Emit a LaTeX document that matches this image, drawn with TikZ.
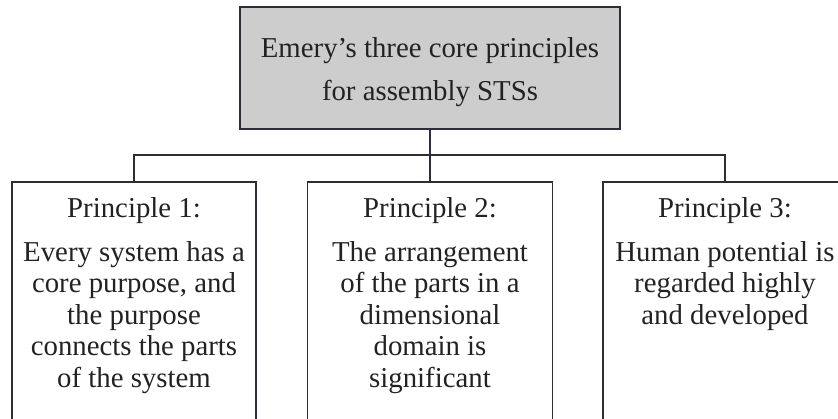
\documentclass[tikz,border=0pt]{standalone}
\usepackage{fontspec}
\setmainfont{Liberation Serif}
\definecolor{linec}{HTML}{2B2E36}
\definecolor{boxfill}{HTML}{CDCDCD}
\definecolor{txtc}{HTML}{222222}
\begin{document}
\begin{tikzpicture}[x=1pt,y=1pt,
  boxstyle/.style={draw=linec,line width=1.6pt,rectangle,inner sep=0pt},
  conn/.style={draw=linec,line width=1.6pt},
  txt/.style={anchor=base,inner sep=0pt,text=txtc,font=\fontsize{28.8}{31.6}\selectfont}]
\useasboundingbox (0,0) rectangle (838,-418);
% top box
\node[boxstyle,fill=boxfill,minimum width=380pt,minimum height=122pt] (top) at (430,-68) {};
\node[txt] (t1) at (430,-57) {Emery’s three core principles};
\node[txt] (t2) at (430,-100) {for assembly STSs};
% lower boxes
\node[boxstyle,minimum width=244pt,minimum height=300pt,anchor=north] (b1) at (134,-181) {};
\node[boxstyle,minimum width=245pt,minimum height=300pt,anchor=north] (b2) at (430,-181) {};
\node[boxstyle,minimum width=244pt,minimum height=300pt,anchor=north] (b3) at (725,-181) {};
% connectors
\coordinate (j) at (430,-155);
\draw[conn] (top.south) -- (b2.north);
\draw[conn] (b1.north) |- (j) -| (b3.north);
% headings
\node[txt] (h1) at (134,-217) {Principle 1:};
\node[txt] (h2) at (430,-217) {Principle 2:};
\node[txt] (h3) at (725,-217) {Principle 3:};
% bodies
\foreach [count=\i] \l in {Every system has a,{core purpose, and},the purpose,connects the parts,of the system}
  \node[txt] (pa\i) at (134,{-261-31.6*(\i-1)}) {\l};
\foreach [count=\i] \l in {The arrangement,of the parts in a,dimensional,domain is,significant}
  \node[txt] (pb\i) at (430,{-261-31.6*(\i-1)}) {\l};
\foreach [count=\i] \l in {Human potential is,regarded highly,and developed}
  \node[txt] (pc\i) at (725,{-261-31.6*(\i-1)}) {\l};
\end{tikzpicture}
\end{document}
